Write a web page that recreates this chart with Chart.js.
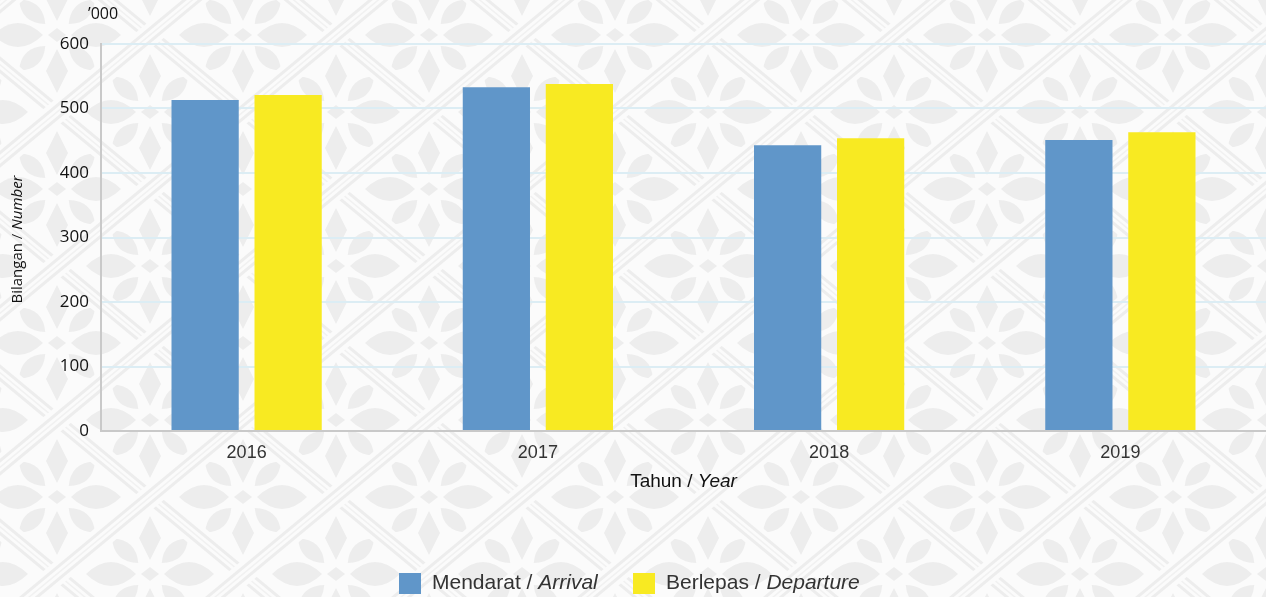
<!DOCTYPE html>
<html>
<head>
<meta charset="utf-8">
<script src="https://cdn.jsdelivr.net/npm/chart.js@4"></script>
<style>
  html, body { margin: 0; padding: 0; background: #fbfbfb; }
  #wrap { position: relative; width: 1266px; height: 597px; }
</style>
</head>
<body>
<div id="wrap"><canvas id="chart" width="1266" height="597"></canvas></div>
<script>
// ----- Data -----
const years = ["2016", "2017", "2018", "2019"];
const arrival = [513, 533, 443, 451];
const departure = [521, 538, 454, 463];
const yTicks = [0, 100, 200, 300, 400, 500, 600];

const seriesNames = [["Mendarat", "Arrival"], ["Berlepas", "Departure"]];
const yTitle = ["Bilangan", "Number"];
const xTitle = ["Tahun", "Year"];
const unitLabel = "\u2019000";

const AREA_LEFT = 101, AREA_TOP = 44, AREA_BOTTOM = 431;

// ----- Background pattern -----
function leaf(ctx, cx, cy, ang, r0, r1, w, pointy) {
  const ux = Math.cos(ang), uy = Math.sin(ang);
  const nx = -uy, ny = ux;
  const ax = cx + ux * r0, ay = cy + uy * r0;
  const bx = cx + ux * r1, by = cy + uy * r1;
  const mx = (ax + bx) / 2, my = (ay + by) / 2;
  ctx.beginPath();
  ctx.moveTo(ax, ay);
  if (pointy) {
    ctx.lineTo(mx + nx * w, my + ny * w);
    ctx.lineTo(bx, by);
    ctx.lineTo(mx - nx * w, my - ny * w);
  } else {
    ctx.quadraticCurveTo(mx + nx * w * 2, my + ny * w * 2, bx, by);
    ctx.quadraticCurveTo(mx - nx * w * 2, my - ny * w * 2, ax, ay);
  }
  ctx.closePath();
  ctx.fill();
}

function drawFlower(ctx, cx, cy) {
  ctx.fillStyle = "#ededed";
  leaf(ctx, cx, cy, 0, 14, 64, 12, false);
  leaf(ctx, cx, cy, Math.PI, 14, 64, 12, false);
  leaf(ctx, cx, cy, -Math.PI / 2, 14, 58, 11, true);
  leaf(ctx, cx, cy, Math.PI / 2, 14, 58, 11, true);
  [-0.75, -2.39, 0.75, 2.39].forEach(a => leaf(ctx, cx, cy, a, 16, 52, 8, false));
  ctx.beginPath();
  ctx.moveTo(cx, cy - 7); ctx.lineTo(cx + 9, cy); ctx.lineTo(cx, cy + 7); ctx.lineTo(cx - 9, cy);
  ctx.closePath();
  ctx.fill();
}

function drawPattern(ctx, w, h) {
  const px = 186, py = 154, ox = 57, oy = 35;
  ctx.save();
  ctx.fillStyle = "#fbfbfb";
  ctx.fillRect(0, 0, w, h);
  for (let j = -2; j < 12; j++) {
    const cy = oy + j * py / 2;
    const shift = Math.abs(j) % 2 === 1 ? px / 2 : 0;
    for (let i = -2; i < 10; i++) drawFlower(ctx, ox + shift + i * px, cy);
  }
  // lattice bands
  [1, -1].forEach(sgn => {
    const dx = sgn * px / 2, dy = py / 2;
    const len = Math.hypot(dx, dy);
    const ux = dx / len, uy = dy / len;
    const nx = -uy, ny = ux;
    for (let k = -12; k < 14; k++) {
      const x0 = ox + px / 2 + k * px, y0 = oy;
      const seg = (off, color, lw) => {
        ctx.strokeStyle = color;
        ctx.lineWidth = lw;
        ctx.beginPath();
        ctx.moveTo(x0 + nx * off - ux * 2000, y0 + ny * off - uy * 2000);
        ctx.lineTo(x0 + nx * off + ux * 2000, y0 + ny * off + uy * 2000);
        ctx.stroke();
      };
      seg(0, "#fbfbfb", 22);
      seg(-5, "#ededed", 3);
      seg(5, "#ededed", 3);
      seg(0, "#f1f1f1", 1.5);
    }
  });
  ctx.restore();
}

// ----- Text helpers -----
function drawMixed(ctx, x, y, parts, size, family, color, align) {
  ctx.fillStyle = color;
  ctx.textBaseline = "middle";
  const fonts = [size + "px " + family, "italic " + size + "px " + family];
  const texts = [parts[0] + " / ", parts[1]];
  const widths = texts.map((t, i) => { ctx.font = fonts[i]; return ctx.measureText(t).width; });
  const total = widths[0] + widths[1];
  let start = align === "center" ? x - total / 2 : x;
  texts.forEach((t, i) => {
    ctx.font = fonts[i];
    ctx.textAlign = "left";
    ctx.fillText(t, start, y);
    start += widths[i];
  });
  return total;
}

const decorPlugin = {
  id: "decor",
  beforeDraw(chart) {
    drawPattern(chart.ctx, chart.width, chart.height);
  },
  afterDraw(chart) {
    const ctx = chart.ctx;
    const area = chart.chartArea;
    ctx.save();
    // unit label
    ctx.font = "16px 'Open Sans'";
    ctx.fillStyle = "#111";
    ctx.textAlign = "left";
    ctx.textBaseline = "middle";
    ctx.fillText(unitLabel, 88, 14);
    // x title
    drawMixed(ctx, (area.left + area.right) / 2, 482, xTitle, 19, "'Liberation Sans', Arial", "#111", "center");
    // y title (rotated)
    ctx.save();
    ctx.translate(18, (area.top + area.bottom) / 2 + 2);
    ctx.rotate(-Math.PI / 2);
    drawMixed(ctx, 0, 0, yTitle, 15, "'Open Sans'", "#111", "center");
    ctx.restore();
    // legend
    const boxes = [399, 633];
    chart.data.datasets.forEach((ds, i) => {
      ctx.fillStyle = ds.backgroundColor;
      ctx.fillRect(boxes[i], 573, 22, 21);
      drawMixed(ctx, boxes[i] + 33, 583, seriesNames[i], 21, "'Liberation Sans', Arial", "#333", "left");
    });
    ctx.restore();
  }
};

// ----- Chart -----
const ctx = document.getElementById("chart").getContext("2d");
new Chart(ctx, {
  type: "bar",
  data: {
    labels: years,
    datasets: [
      {
        label: seriesNames[0].join(" / "),
        data: arrival,
        backgroundColor: "#6096c9",
        categoryPercentage: 0.57,
        barPercentage: 0.81
      },
      {
        label: seriesNames[1].join(" / "),
        data: departure,
        backgroundColor: "#f8ea22",
        categoryPercentage: 0.57,
        barPercentage: 0.81
      }
    ]
  },
  options: {
    responsive: false,
    animation: false,
    layout: { padding: { top: AREA_TOP, right: 0, bottom: 0, left: 0 } },
    plugins: {
      legend: { display: false },
      tooltip: { enabled: false }
    },
    scales: {
      x: {
        grid: { display: false, drawTicks: false },
        border: { color: "#c9c9c9", width: 2, z: 1 },
        ticks: {
          color: "#333",
          font: { family: "'Liberation Sans', Arial", size: 18 },
          padding: 11
        },
        afterFit(scale) { scale.height = 597 - AREA_BOTTOM; }
      },
      y: {
        min: 0,
        max: 600,
        grid: {
          drawTicks: false,
          lineWidth: 2,
          color: c => (c.tick && c.tick.value === 0 ? "rgba(0,0,0,0)" : "#dcedf4")
        },
        border: { color: "#c9c9c9", width: 2, z: 1 },
        afterBuildTicks(scale) { scale.ticks = yTicks.map(v => ({ value: v })); },
        ticks: {
          color: "#111",
          font: { family: "'Open Sans'", size: 17 },
          padding: 12
        },
        afterFit(scale) { scale.width = AREA_LEFT; }
      }
    }
  },
  plugins: [decorPlugin]
});
</script>
</body>
</html>
